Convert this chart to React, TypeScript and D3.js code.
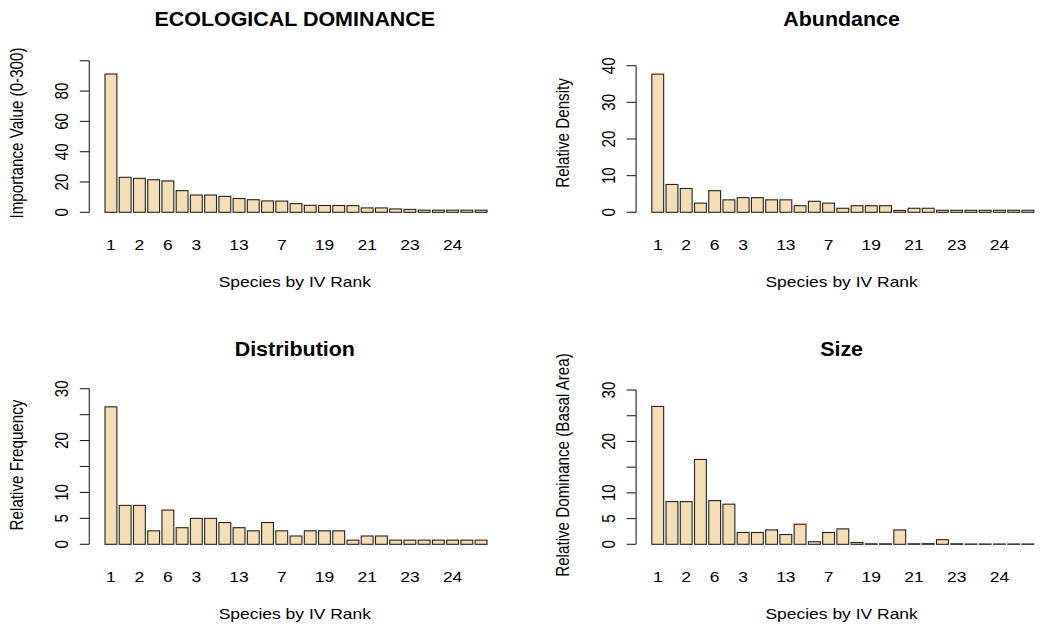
import React from 'react';
import * as d3 from 'd3';

// Species labels (by IV rank) as printed under the bars (R skips overlapping ones)
const rankLabels = ['1', '', '2', '', '6', '', '3', '', '', '13', '', '', '7', '', '', '19', '', '', '21', '', '', '23', '', '', '24', '', ''];

const importanceValue = [91.3, 23.1, 22.4, 21.5, 20.7, 14.3, 11.4, 11.4, 10.5, 9.1, 8.3, 7.5, 7.4, 5.7, 4.6, 4.5, 4.5, 4.4, 2.9, 2.9, 2.2, 1.9, 1.4, 1.4, 1.4, 1.4, 1.4];
const relativeDensity = [37.7, 7.6, 6.5, 2.5, 5.9, 3.4, 4.0, 4.0, 3.4, 3.4, 1.8, 3.0, 2.5, 1.1, 1.8, 1.8, 1.8, 0.5, 1.1, 1.1, 0.55, 0.55, 0.55, 0.55, 0.55, 0.55, 0.55];
const relativeFrequency = [26.5, 7.5, 7.5, 2.6, 6.6, 3.2, 5.0, 5.0, 4.2, 3.2, 2.6, 4.2, 2.6, 1.6, 2.6, 2.6, 2.6, 0.8, 1.6, 1.6, 0.8, 0.8, 0.8, 0.8, 0.8, 0.8, 0.8];
const relativeDominance = [26.8, 8.3, 8.3, 16.5, 8.5, 7.8, 2.3, 2.3, 2.8, 1.9, 3.9, 0.5, 2.3, 3.0, 0.35, 0.1, 0.1, 2.8, 0.1, 0.12, 0.9, 0.1, 0.06, 0.06, 0.06, 0.06, 0.06];

const ivTicks = [0, 20, 40, 60, 80, 100];
const ivTickLabels = [0, 20, 40, 60, 80];
const densityTicks = [0, 10, 20, 30, 40];
const densityTickLabels = [0, 10, 20, 30, 40];
const freqTicks = [0, 5, 10, 15, 20, 25, 30];
const freqTickLabels = [0, 5, 10, 20, 30];
const domTicks = [0, 5, 10, 15, 20, 25, 30];
const domTickLabels = [0, 5, 10, 20, 30];

const xTitle = 'Species by IV Rank';

const FONT = '"Liberation Sans", Arial, Helvetica, sans-serif';

function SText({ x, y, size, bold, rotate, sx = 1.15, children }: any) {
  return (
    <g transform={`translate(${x},${y}) scale(${sx},1)${rotate ? ' rotate(-90)' : ''}`}>
      <text textAnchor="middle" fontFamily={FONT} fontSize={size} fontWeight={bold ? 'bold' : 'normal'} fill="#000">
        {children}
      </text>
    </g>
  );
}

function Panel({ ox, oy, title, titleY, ylab, values, yMax, yTopPx, ticks, tickLabels }: any) {
  const y0 = 212.3 + oy;
  const y = d3.scaleLinear().domain([0, yMax]).range([y0, yTopPx]);
  const x = d3
    .scaleBand<number>()
    .domain(d3.range(values.length))
    .range([105 + ox, 487 + ox])
    .paddingInner(0.2 / 1.2)
    .paddingOuter(0);
  const axisX = 89.3 + ox;
  const cx = 294.8 + ox;
  return (
    <g>
      <SText x={cx} y={titleY} size={19.5} bold sx={1.1}>{title}</SText>
      {/* y axis */}
      <line x1={axisX} x2={axisX} y1={y(0)} y2={y(ticks[ticks.length - 1])} stroke="#222" strokeWidth={1.1} />
      {ticks.map((t: number) => (
        <line key={t} x1={axisX - 9.5} x2={axisX} y1={y(t)} y2={y(t)} stroke="#222" strokeWidth={1.1} />
      ))}
      {tickLabels.map((t: number) => (
        <SText key={t} x={68.2 + ox} y={y(t)} size={15.2} rotate>{String(t)}</SText>
      ))}
      <SText x={22.5 + ox} y={(oy === 0 ? 133 : 465)} size={15.2} rotate>{ylab}</SText>
      {/* bars */}
      {values.map((v: number, i: number) => (
        <rect
          key={i}
          x={x(i)}
          y={y(v)}
          width={x.bandwidth()}
          height={y0 - y(v)}
          fill="#F5DEB3"
          stroke="#222"
          strokeWidth={1.1}
        />
      ))}
      {rankLabels.map((l, i) =>
        l ? (
          <SText key={i} x={(x(i) as number) + x.bandwidth() / 2} y={249.8 + oy} size={15.2}>{l}</SText>
        ) : null
      )}
      <SText x={cx} y={287.3 + oy} size={15.2}>{xTitle}</SText>
    </g>
  );
}

export default function App() {
  const dx = 546.8;
  const dy = 332;
  return (
    <svg width={1042} height={626} style={{ position: 'absolute', left: 0, top: 0, background: '#fff' }}>
      <rect width={1042} height={626} fill="#fff" />
      <Panel ox={0} oy={0} title="ECOLOGICAL DOMINANCE" titleY={25.5} ylab="Importance Value (0-300)"
        values={importanceValue} yMax={100} yTopPx={60.8} ticks={ivTicks} tickLabels={ivTickLabels} />
      <Panel ox={dx} oy={0} title="Abundance" titleY={25.5} ylab="Relative Density"
        values={relativeDensity} yMax={40} yTopPx={65.7} ticks={densityTicks} tickLabels={densityTickLabels} />
      <Panel ox={0} oy={dy} title="Distribution" titleY={355.7} ylab="Relative Frequency"
        values={relativeFrequency} yMax={30} yTopPx={388.7} ticks={freqTicks} tickLabels={freqTickLabels} />
      <Panel ox={dx} oy={dy} title="Size" titleY={355.7} ylab="Relative Dominance (Basal Area)"
        values={relativeDominance} yMax={30} yTopPx={390} ticks={domTicks} tickLabels={domTickLabels} />
    </svg>
  );
}
